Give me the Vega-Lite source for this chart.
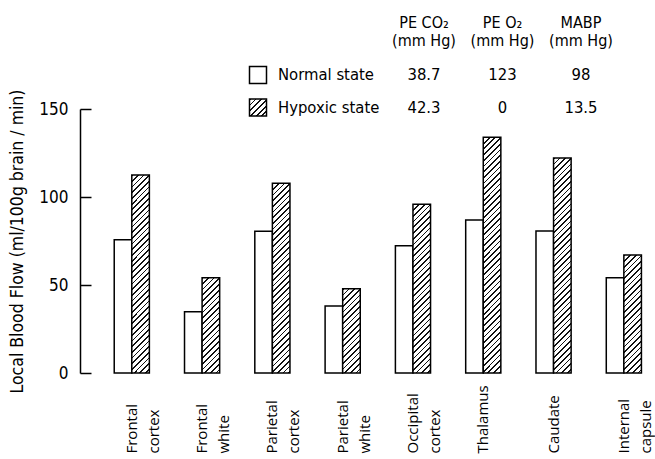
{
"$schema": "https://vega.github.io/schema/vega-lite/v6.json",
"width": 575,
"height": 264,
"autosize": "none",
"padding": {"left": 80, "top": 109, "right": 0, "bottom": 86},
"background": "white",
"config": {"view": {"stroke": null}, "font": "DejaVu Sans Condensed, Roboto"},
"params": [{"name": "hatch", "value": [
{"offset":0,"color":"#fff"},{"offset":0,"color":"#111"},{"offset":0.006,"color":"#111"},{"offset":0.006,"color":"#fff"},
{"offset":0.02,"color":"#fff"},{"offset":0.02,"color":"#111"},{"offset":0.026,"color":"#111"},{"offset":0.026,"color":"#fff"},
{"offset":0.04,"color":"#fff"},{"offset":0.04,"color":"#111"},{"offset":0.046,"color":"#111"},{"offset":0.046,"color":"#fff"},
{"offset":0.06,"color":"#fff"},{"offset":0.06,"color":"#111"},{"offset":0.066,"color":"#111"},{"offset":0.066,"color":"#fff"},
{"offset":0.08,"color":"#fff"},{"offset":0.08,"color":"#111"},{"offset":0.086,"color":"#111"},{"offset":0.086,"color":"#fff"},
{"offset":0.1,"color":"#fff"},{"offset":0.1,"color":"#111"},{"offset":0.106,"color":"#111"},{"offset":0.106,"color":"#fff"},
{"offset":0.12,"color":"#fff"},{"offset":0.12,"color":"#111"},{"offset":0.126,"color":"#111"},{"offset":0.126,"color":"#fff"},
{"offset":0.14,"color":"#fff"},{"offset":0.14,"color":"#111"},{"offset":0.146,"color":"#111"},{"offset":0.146,"color":"#fff"},
{"offset":0.16,"color":"#fff"},{"offset":0.16,"color":"#111"},{"offset":0.166,"color":"#111"},{"offset":0.166,"color":"#fff"},
{"offset":0.18,"color":"#fff"},{"offset":0.18,"color":"#111"},{"offset":0.186,"color":"#111"},{"offset":0.186,"color":"#fff"},
{"offset":0.2,"color":"#fff"},{"offset":0.2,"color":"#111"},{"offset":0.206,"color":"#111"},{"offset":0.206,"color":"#fff"},
{"offset":0.22,"color":"#fff"},{"offset":0.22,"color":"#111"},{"offset":0.226,"color":"#111"},{"offset":0.226,"color":"#fff"},
{"offset":0.24,"color":"#fff"},{"offset":0.24,"color":"#111"},{"offset":0.246,"color":"#111"},{"offset":0.246,"color":"#fff"},
{"offset":0.26,"color":"#fff"},{"offset":0.26,"color":"#111"},{"offset":0.266,"color":"#111"},{"offset":0.266,"color":"#fff"},
{"offset":0.28,"color":"#fff"},{"offset":0.28,"color":"#111"},{"offset":0.286,"color":"#111"},{"offset":0.286,"color":"#fff"},
{"offset":0.3,"color":"#fff"},{"offset":0.3,"color":"#111"},{"offset":0.306,"color":"#111"},{"offset":0.306,"color":"#fff"},
{"offset":0.32,"color":"#fff"},{"offset":0.32,"color":"#111"},{"offset":0.326,"color":"#111"},{"offset":0.326,"color":"#fff"},
{"offset":0.34,"color":"#fff"},{"offset":0.34,"color":"#111"},{"offset":0.346,"color":"#111"},{"offset":0.346,"color":"#fff"},
{"offset":0.36,"color":"#fff"},{"offset":0.36,"color":"#111"},{"offset":0.366,"color":"#111"},{"offset":0.366,"color":"#fff"},
{"offset":0.38,"color":"#fff"},{"offset":0.38,"color":"#111"},{"offset":0.386,"color":"#111"},{"offset":0.386,"color":"#fff"},
{"offset":0.4,"color":"#fff"},{"offset":0.4,"color":"#111"},{"offset":0.406,"color":"#111"},{"offset":0.406,"color":"#fff"},
{"offset":0.42,"color":"#fff"},{"offset":0.42,"color":"#111"},{"offset":0.426,"color":"#111"},{"offset":0.426,"color":"#fff"},
{"offset":0.44,"color":"#fff"},{"offset":0.44,"color":"#111"},{"offset":0.446,"color":"#111"},{"offset":0.446,"color":"#fff"},
{"offset":0.46,"color":"#fff"},{"offset":0.46,"color":"#111"},{"offset":0.466,"color":"#111"},{"offset":0.466,"color":"#fff"},
{"offset":0.48,"color":"#fff"},{"offset":0.48,"color":"#111"},{"offset":0.486,"color":"#111"},{"offset":0.486,"color":"#fff"},
{"offset":0.5,"color":"#fff"},{"offset":0.5,"color":"#111"},{"offset":0.506,"color":"#111"},{"offset":0.506,"color":"#fff"},
{"offset":0.52,"color":"#fff"},{"offset":0.52,"color":"#111"},{"offset":0.526,"color":"#111"},{"offset":0.526,"color":"#fff"},
{"offset":0.54,"color":"#fff"},{"offset":0.54,"color":"#111"},{"offset":0.546,"color":"#111"},{"offset":0.546,"color":"#fff"},
{"offset":0.56,"color":"#fff"},{"offset":0.56,"color":"#111"},{"offset":0.566,"color":"#111"},{"offset":0.566,"color":"#fff"},
{"offset":0.58,"color":"#fff"},{"offset":0.58,"color":"#111"},{"offset":0.586,"color":"#111"},{"offset":0.586,"color":"#fff"},
{"offset":0.6,"color":"#fff"},{"offset":0.6,"color":"#111"},{"offset":0.606,"color":"#111"},{"offset":0.606,"color":"#fff"},
{"offset":0.62,"color":"#fff"},{"offset":0.62,"color":"#111"},{"offset":0.626,"color":"#111"},{"offset":0.626,"color":"#fff"},
{"offset":0.64,"color":"#fff"},{"offset":0.64,"color":"#111"},{"offset":0.646,"color":"#111"},{"offset":0.646,"color":"#fff"},
{"offset":0.66,"color":"#fff"},{"offset":0.66,"color":"#111"},{"offset":0.666,"color":"#111"},{"offset":0.666,"color":"#fff"},
{"offset":0.68,"color":"#fff"},{"offset":0.68,"color":"#111"},{"offset":0.686,"color":"#111"},{"offset":0.686,"color":"#fff"},
{"offset":0.7,"color":"#fff"},{"offset":0.7,"color":"#111"},{"offset":0.706,"color":"#111"},{"offset":0.706,"color":"#fff"},
{"offset":0.72,"color":"#fff"},{"offset":0.72,"color":"#111"},{"offset":0.726,"color":"#111"},{"offset":0.726,"color":"#fff"},
{"offset":0.74,"color":"#fff"},{"offset":0.74,"color":"#111"},{"offset":0.746,"color":"#111"},{"offset":0.746,"color":"#fff"},
{"offset":0.76,"color":"#fff"},{"offset":0.76,"color":"#111"},{"offset":0.766,"color":"#111"},{"offset":0.766,"color":"#fff"},
{"offset":0.78,"color":"#fff"},{"offset":0.78,"color":"#111"},{"offset":0.786,"color":"#111"},{"offset":0.786,"color":"#fff"},
{"offset":0.8,"color":"#fff"},{"offset":0.8,"color":"#111"},{"offset":0.806,"color":"#111"},{"offset":0.806,"color":"#fff"},
{"offset":0.82,"color":"#fff"},{"offset":0.82,"color":"#111"},{"offset":0.826,"color":"#111"},{"offset":0.826,"color":"#fff"},
{"offset":0.84,"color":"#fff"},{"offset":0.84,"color":"#111"},{"offset":0.846,"color":"#111"},{"offset":0.846,"color":"#fff"},
{"offset":0.86,"color":"#fff"},{"offset":0.86,"color":"#111"},{"offset":0.866,"color":"#111"},{"offset":0.866,"color":"#fff"},
{"offset":0.88,"color":"#fff"},{"offset":0.88,"color":"#111"},{"offset":0.886,"color":"#111"},{"offset":0.886,"color":"#fff"},
{"offset":1,"color":"#fff"}
]}],
"datasets": {
"flow": [
{"region": "Frontal cortex", "state": "Normal state", "flow": 75.7},
{"region": "Frontal cortex", "state": "Hypoxic state", "flow": 112.5},
{"region": "Frontal white", "state": "Normal state", "flow": 34.8},
{"region": "Frontal white", "state": "Hypoxic state", "flow": 54.1},
{"region": "Parietal cortex", "state": "Normal state", "flow": 80.5},
{"region": "Parietal cortex", "state": "Hypoxic state", "flow": 107.8},
{"region": "Parietal white", "state": "Normal state", "flow": 38.1},
{"region": "Parietal white", "state": "Hypoxic state", "flow": 47.9},
{"region": "Occipital cortex", "state": "Normal state", "flow": 72.3},
{"region": "Occipital cortex", "state": "Hypoxic state", "flow": 95.9},
{"region": "Thalamus", "state": "Normal state", "flow": 86.9},
{"region": "Thalamus", "state": "Hypoxic state", "flow": 133.9},
{"region": "Caudate", "state": "Normal state", "flow": 80.7},
{"region": "Caudate", "state": "Hypoxic state", "flow": 122.2},
{"region": "Internal capsule", "state": "Normal state", "flow": 54.1},
{"region": "Internal capsule", "state": "Hypoxic state", "flow": 67.0}
],
"legendValues": [
{"state": "Normal state", "col": "PE CO₂", "value": "38.7"},
{"state": "Normal state", "col": "PE O₂", "value": "123"},
{"state": "Normal state", "col": "MABP", "value": "98"},
{"state": "Hypoxic state", "col": "PE CO₂", "value": "42.3"},
{"state": "Hypoxic state", "col": "PE O₂", "value": "0"},
{"state": "Hypoxic state", "col": "MABP", "value": "13.5"}
],
"legendCols": [
{"col": "PE CO₂", "unit": "(mm Hg)"},
{"col": "PE O₂", "unit": "(mm Hg)"},
{"col": "MABP", "unit": "(mm Hg)"}
],
"states": [
{"state": "Normal state"},
{"state": "Hypoxic state"}
]
},
"layer": [
{
"data": {"name": "flow"},
"mark": {"type": "bar", "stroke": "black", "strokeWidth": 1.5,
"fill": {"expr": "datum.state === 'Hypoxic state' ? {gradient: 'linear', x1: 0, y1: 0, x2: 17.6*285/(17.6*17.6 + pow(datum.flow*height/150, 2)), y2: (datum.flow*height/150)*285/(17.6*17.6 + pow(datum.flow*height/150, 2)), stops: hatch} : '#ffffff'"}},
"encoding": {
"x": {"field": "region", "type": "nominal",
"sort": ["Frontal cortex", "Frontal white", "Parietal cortex", "Parietal white", "Occipital cortex", "Thalamus", "Caudate", "Internal capsule"],
"scale": {"paddingInner": 0.5, "paddingOuter": 0.34, "align": 0.716},
"axis": {"title": null, "domain": false, "ticks": false, "tickSize": 0, "labelAngle": -90, "labelAlign": "left", "labelBaseline": "middle", "labelPadding": 80, "labelFont": "Open Sans", "labelFontSize": 15, "labelLineHeight": 22, "labelColor": "black", "labelExpr": "split(datum.label, ' ')", "labelOverlap": false, "labelBound": false}},
"xOffset": {"field": "state", "type": "nominal", "sort": ["Normal state", "Hypoxic state"]},
"y": {"field": "flow", "type": "quantitative", "scale": {"domain": [0, 150], "nice": false},
"axis": {"values": [0, 50, 100, 150], "domainColor": "black", "domainWidth": 1.5, "tickColor": "black", "tickWidth": 1.5, "tickSize": -11, "labelPadding": 23, "labelFont": "DejaVu Sans Condensed, Roboto", "labelFontSize": 17, "labelColor": "black", "grid": false,
"title": "Local Blood Flow (ml/100g brain / min)", "titleFont": "DejaVu Sans Condensed, Roboto", "titleFontSize": 17.5, "titleFontWeight": "normal", "titleColor": "black", "titlePadding": 12}}
}
},
{
"layer": [
{
"data": {"name": "legendCols"},
"mark": {"type": "text", "align": "center", "baseline": "middle", "fontSize": 16, "color": "black", "dy": -52},
"encoding": {
"x": {"field": "col", "type": "nominal", "scale": {"type": "point", "domain": ["PE CO₂", "PE O₂", "MABP"], "range": [344, 501], "padding": 0}, "axis": null},
"y": {"datum": "Normal state", "type": "nominal", "scale": {"type": "point", "domain": ["Normal state", "Hypoxic state"], "range": [-34, -1.5], "padding": 0}, "axis": null},
"text": {"field": "col"}
}
},
{
"data": {"name": "legendCols"},
"mark": {"type": "text", "align": "center", "baseline": "middle", "fontSize": 16, "color": "black", "dy": -34.5},
"encoding": {
"x": {"field": "col", "type": "nominal", "axis": null},
"y": {"datum": "Normal state", "type": "nominal", "axis": null},
"text": {"field": "unit"}
}
},
{
"data": {"name": "legendValues"},
"mark": {"type": "text", "align": "center", "baseline": "middle", "fontSize": 16.5, "color": "black"},
"encoding": {
"x": {"field": "col", "type": "nominal", "axis": null},
"y": {"field": "state", "type": "nominal", "axis": null},
"text": {"field": "value"}
}
},
{
"data": {"name": "states"},
"mark": {"type": "text", "align": "left", "baseline": "middle", "fontSize": 16.5, "color": "black", "dx": -146},
"encoding": {
"x": {"datum": "PE CO₂", "type": "nominal", "axis": null},
"y": {"field": "state", "type": "nominal", "axis": null},
"text": {"field": "state"}
}
},
{
"data": {"name": "states"},
"mark": {"type": "square", "size": 289, "opacity": 1, "stroke": "black", "strokeWidth": 1.5,
"fill": {"expr": "datum.state === 'Hypoxic state' ? {gradient: 'linear', x1: 0, y1: 0, x2: 8.38, y2: 8.38, stops: hatch} : '#ffffff'"}},
"encoding": {
"x": {"datum": "PE CO₂", "type": "nominal", "axis": null},
"xOffset": {"value": -166},
"y": {"field": "state", "type": "nominal", "axis": null}
}
}
]
}
],
"resolve": {"scale": {"x": "independent", "y": "independent"}}
}
